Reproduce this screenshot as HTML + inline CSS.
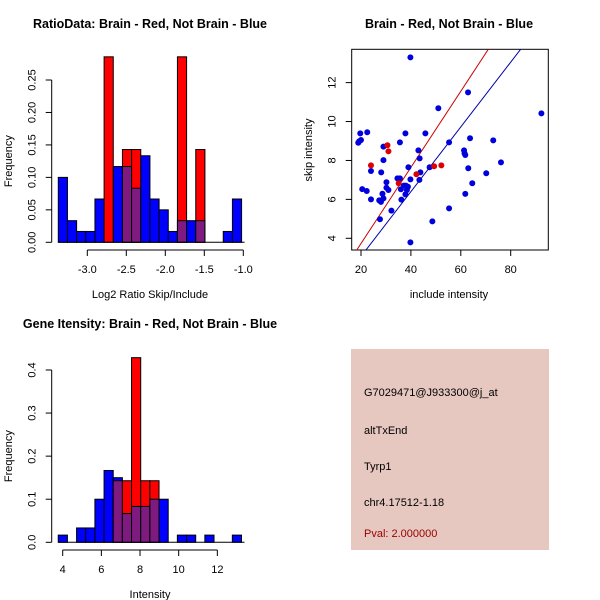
<!DOCTYPE html>
<html><head><meta charset="utf-8"><style>
html,body{margin:0;padding:0;background:#fff;}
svg{display:block;font-family:"Liberation Sans",sans-serif;}
</style></head><body>
<svg id="c" width="600" height="600" xmlns="http://www.w3.org/2000/svg"></svg>
<script>
// ---- Data: ratio histogram ----
const ratioBinStart = -3.372, ratioBinWidth = 0.1175;
const ratioBlue = [0.10,0.0333,0.0167,0.0167,0.0667,0,0.1167,0.1167,0.0833,0.1333,0.0667,0.05,0.0167,0.0333,0.0333,0.0333,0,0,0.0167,0.0667];
const ratioRed  = [0,0,0,0,0,0.2857,0,0.1429,0.1429,0,0,0,0,0.2857,0,0.1429,0,0,0,0];
const ratioXTicks = [-3.0,-2.5,-2.0,-1.5,-1.0];
const ratioYTicks = [0,0.05,0.10,0.15,0.20,0.25];
// ---- Data: intensity histogram ----
const intBinStart = 3.77, intBinWidth = 0.474;
const intBlue = [0.0167,0,0.0333,0.0333,0.10,0.1667,0.15,0.0667,0.0833,0.0833,0.10,0.10,0,0.0167,0.0167,0,0.0167,0,0,0.0167];
const intRed  = [0,0,0,0,0,0,0.1429,0.1429,0.4286,0.1429,0.1429,0,0,0,0,0,0,0,0,0];
const intXTicks = [4,6,8,10,12];
const intYTicks = [0,0.1,0.2,0.3,0.4];
// ---- Data: scatter ----
const blueX = [18.9,19.7,19.3,20.0,20.5,22.3,22.5,24.0,24.0,27.6,27.3,28.0,28.1,28.6,29.0,29.0,29.0,30.2,30.2,31.0,32.2,34.6,35.6,35.6,36.0,36.2,37.2,37.8,38.0,38.4,38.8,37.8,39.0,39.8,39.8,39.8,43.0,43.5,43.4,43.8,45.8,47.5,48.6,51.0,55.3,55.3,61.3,61.5,61.8,61.8,62.9,63.0,63.7,64.6,70.2,73.0,76.1,92.3];
const blueY = [8.91,9.39,8.99,9.05,6.53,6.43,9.45,7.46,6.0,4.98,5.95,5.87,7.39,6.29,6.05,8.02,8.71,6.88,6.60,6.48,5.42,7.08,8.93,7.08,6.52,5.99,6.71,6.26,6.71,6.48,6.65,9.39,7.65,13.30,3.79,7.03,8.52,8.11,7.00,7.39,9.39,7.65,4.87,10.68,8.93,5.54,8.52,8.37,8.28,6.28,11.50,7.60,9.14,6.83,7.34,9.03,7.90,10.42];
const redX = [24.0,30.6,31.0,35.1,42.2,49.3,52.2];
const redY = [7.75,8.78,8.47,6.83,7.29,7.70,7.75];
const redLine = [-0.18,0.1956];   // intercept, slope
const blueLine = [-0.26,0.1664];
const scXTicks = [20,40,60,80];
const scYTicks = [4,6,8,10,12];

const svg = document.getElementById('c');
const NS = 'http://www.w3.org/2000/svg';
function mk(tag, attrs, parent){const e=document.createElementNS(NS,tag);for(const k in attrs)e.setAttribute(k,attrs[k]);(parent||svg).appendChild(e);return e;}
function txt(x,y,s,opts,parent){const e=mk('text',Object.assign({x:x,y:y,'font-size':11,'text-anchor':'middle',fill:'#000'},opts||{}),parent);e.textContent=s;return e;}

function histogram(name, binStart, binW, blue, red, xTicks, yTicks, xs, ys, yAxisX, xAxisY, yTickFmt, xTickFmt, title, titleY, xlabel){
  const g = mk('g',{});
  
  
  const y0 = ys(0);
  for(let i=0;i<blue.length;i++){
    const x1=xs(binStart+i*binW), x2=xs(binStart+(i+1)*binW);
    const b=blue[i], r=red[i];
    const draw=(v,col,nm)=>{ if(v<=0) return; const r_=mk('rect',{x:x1,y:ys(v),width:x2-x1,height:y0-ys(v),fill:col,stroke:'#000','stroke-width':1},g);
      
       };
    if(b>=r){ draw(b,'#0000ff','blue-bar'); draw(r,'#7f1a80','overlap-bar'); }
    else { draw(r,'#ff0000','red-bar'); draw(b,'#7f1a80','overlap-bar'); }
  }
  mk('line',{x1:xs(binStart),x2:xs(binStart+blue.length*binW)+3,y1:y0,y2:y0,stroke:'#000'},g);
  const ya=mk('g',{},g);
  
  
  mk('line',{x1:yAxisX,x2:yAxisX,y1:ys(yTicks[0]),y2:ys(yTicks[yTicks.length-1]),stroke:'#000'},ya);
  yTicks.forEach(t=>{mk('line',{x1:yAxisX-6,x2:yAxisX,y1:ys(t),y2:ys(t),stroke:'#000'},ya);
    txt(yAxisX-16,ys(t),yTickFmt(t),{transform:`rotate(-90 ${yAxisX-16} ${ys(t)})`},ya);});
  const xa=mk('g',{},g);
  
  
  mk('line',{x1:xs(xTicks[0]),x2:xs(xTicks[xTicks.length-1]),y1:xAxisY,y2:xAxisY,stroke:'#000'},xa);
  xTicks.forEach(t=>{mk('line',{x1:xs(t),x2:xs(t),y1:xAxisY,y2:xAxisY+6,stroke:'#000'},xa);
    txt(xs(t),xAxisY+23,xTickFmt(t),{},xa);});
  const tt=txt(150,titleY,title,{'font-weight':'bold','font-size':12.5},g);
  
  
  const xl=txt(150,xAxisY+48,xlabel,{},g);
  
  
  const yl=txt(12,(ys(0)+ys(yTicks[yTicks.length-1]))/2,'Frequency',{transform:`rotate(-90 12 ${(ys(0)+ys(yTicks[yTicks.length-1]))/2})`},g);
  
  
}

{
  const xs=v=>87.3+(v+3.0)*78.0, ys=v=>242.3-v*649.2;
  histogram('ratio-histogram',ratioBinStart,ratioBinWidth,ratioBlue,ratioRed,ratioXTicks,ratioYTicks,xs,ys,51.7,250,t=>t.toFixed(2),t=>t.toFixed(1),'RatioData: Brain - Red, Not Brain - Blue',28,'Log2 Ratio Skip/Include');
}
{
  const xs=v=>62.7+(v-4)*19.33, ys=v=>542.3-v*430.8;
  histogram('intensity-histogram',intBinStart,intBinWidth,intBlue,intRed,intXTicks,intYTicks,xs,ys,51.7,550,t=>t.toFixed(1),t=>String(t),'Gene Itensity: Brain - Red, Not Brain - Blue',328,'Intensity');
}
{
  const g=mk('g',{});
  
  
  const xs=v=>361+(v-20)*2.495, ys=v=>238.3-(v-4)*19.46;
  const L=351.7,R=548.3,T=49.3,B=250;
  const defs=mk('defs',{},g);
  const cp=mk('clipPath',{id:'clipSc'},defs);
  mk('rect',{x:L,y:T,width:R-L,height:B-T},cp);
  const box=mk('rect',{x:L,y:T,width:R-L,height:B-T,fill:'none',stroke:'#000'},g);
  
  
  const lines=mk('g',{'clip-path':'url(#clipSc)'},g);
  [[redLine,'#cc0000','red-fit-line'],[blueLine,'#0000aa','blue-fit-line']].forEach(([p,c,n])=>{
    const l=mk('line',{x1:xs(0),y1:ys(p[0]),x2:xs(120),y2:ys(p[0]+p[1]*120),stroke:c,'stroke-width':1},lines);
    
    
  });
  blueX.forEach((x,i)=>{const c=mk('circle',{cx:xs(x),cy:ys(blueY[i]),r:3,fill:'#0000dd'},g);
    
    });
  redX.forEach((x,i)=>{const c=mk('circle',{cx:xs(x),cy:ys(redY[i]),r:3,fill:'#dd0000'},g);
    
    });
  scXTicks.forEach(t=>{mk('line',{x1:xs(t),x2:xs(t),y1:B,y2:B+6,stroke:'#000'},g);txt(xs(t),B+23,String(t),{},g);});
  scYTicks.forEach(t=>{mk('line',{x1:L-6,x2:L,y1:ys(t),y2:ys(t),stroke:'#000'},g);txt(L-16,ys(t),String(t),{transform:`rotate(-90 ${L-16} ${ys(t)})`},g);});
  const tt=txt(449,28,'Brain - Red, Not Brain - Blue',{'font-weight':'bold','font-size':12.5},g);
  
  
  const xl=txt(449,298,'include intensity',{},g);
  
  
  const yl=txt(312,150,'skip intensity',{transform:'rotate(-90 312 150)'},g);
  
  
}
{
  const g=mk('g',{});
  
  
  mk('rect',{x:351,y:349,width:198,height:201,fill:'#e6c8c0'},g);
  const lines=[['G7029471@J933300@j_at',396,'#000'],['altTxEnd',434,'#000'],['Tyrp1',470,'#000'],['chr4.17512-1.18',506,'#000'],['Pval: 2.000000',537,'#990000']];
  lines.forEach(([s,y,c])=>{const t=txt(364,y,s,{'text-anchor':'start',fill:c,'font-size':11},g);
    
    });
}
</script>
</body></html>
